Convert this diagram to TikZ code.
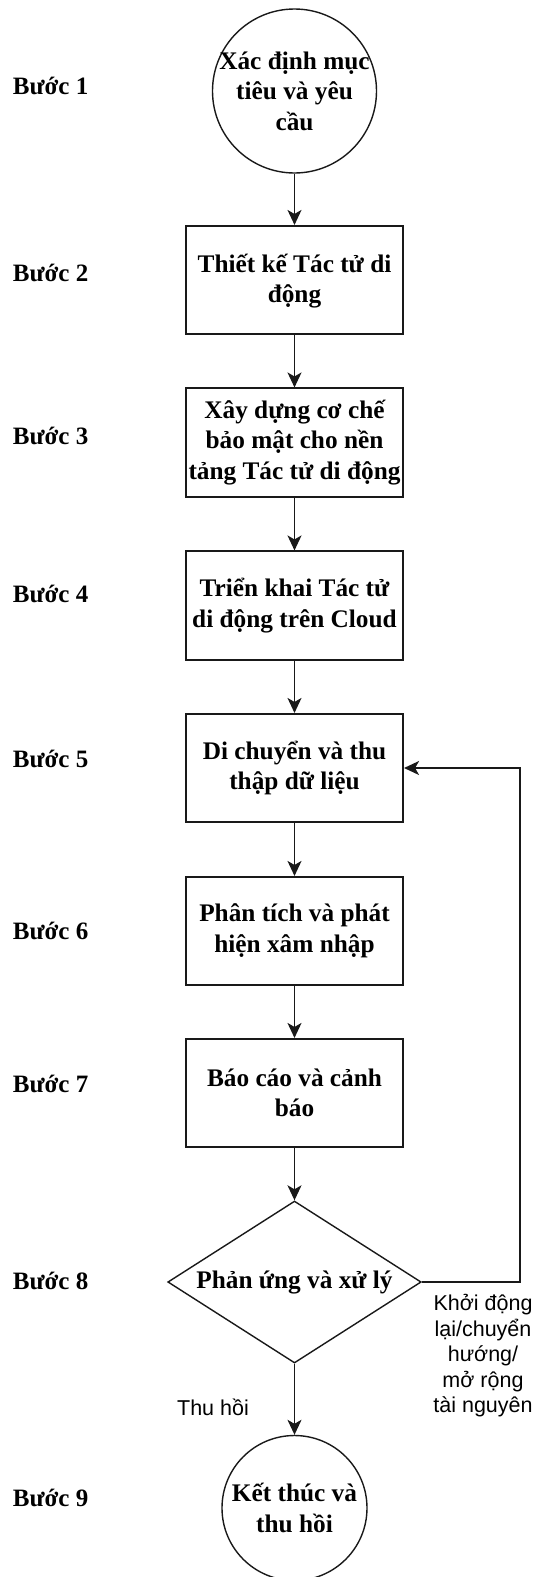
\documentclass[tikz,border=0pt]{standalone}
\usepackage{fontspec}
\setmainfont{Liberation Serif}
\setsansfont{Liberation Sans}
\usetikzlibrary{shapes.geometric,arrows.meta}

\begin{document}
\begin{tikzpicture}[x=1pt,y=-1pt,
  stepbox/.style={draw=black!90, line width=1.6pt, rectangle,
    minimum width=217.5pt, minimum height=108.5pt, inner sep=0pt},
  stepcircle/.style={draw=black!90, line width=1.4pt, circle, inner sep=0pt},
  stepdiamond/.style={draw=black!90, line width=1.4pt, diamond, inner sep=0pt,
    minimum width=253.4pt, minimum height=162pt},
  steptext/.style={align=center, inner sep=0pt,
    font=\fontsize{25.3}{30.5}\selectfont\bfseries},
  steplabel/.style={anchor=base west, inner sep=0pt,
    font=\fontsize{25}{30.5}\selectfont\bfseries},
  edgetext/.style={align=center, inner sep=0pt,
    font=\sffamily\fontsize{21.5}{25.5}\selectfont},
  flow/.style={draw=black!90, line width=1.6pt,
    -{Stealth[length=15pt,width=14pt,inset=4pt]}}
]
\useasboundingbox (0,0) rectangle (536,1577);

% shapes of the flow
\node[stepcircle, minimum size=164pt] (s1) at (294.5,91) {};
\node[stepbox] (s2) at (294.5,280) {};
\node[stepbox] (s3) at (294.5,442.5) {};
\node[stepbox] (s4) at (294.5,605.5) {};
\node[stepbox] (s5) at (294.5,768) {};
\node[stepbox] (s6) at (294.5,931) {};
\node[stepbox] (s7) at (294.5,1093) {};
\node[stepdiamond] (d8) at (294.5,1282) {};
\node[stepcircle, minimum size=145pt] (s9) at (294.5,1508) {};

% texts inside the shapes
\node[steptext] (t1) at (294.5,91) {Xác định mục\\tiêu và yêu\\cầu};
\node[steptext] (t2) at (294.5,281) {Thiết kế Tác tử di\\động};
\node[steptext] (t3) at (294.5,442.5) {Xây dựng cơ chế\\bảo mật cho nền\\tảng Tác tử di động};
\node[steptext] (t4) at (294.5,605.5) {Triển khai Tác tử\\di động trên Cloud};
\node[steptext] (t5) at (294.5,768) {Di chuyển và thu\\thập dữ liệu};
\node[steptext] (t6) at (294.5,931) {Phân tích và phát\\hiện xâm nhập};
\node[steptext] (t7) at (294.5,1093) {Báo cáo và cảnh\\báo};
\node[steptext] (t8) at (294.5,1282) {Phản ứng và xử lý};
\node[steptext] (t9) at (294.5,1508) {Kết thúc và\\thu hồi};

% step numbers on the left
\node[steplabel] (b1) at (12.7,94.5) {Bước 1};
\node[steplabel] (b2) at (12.7,281.7) {Bước 2};
\node[steplabel] (b3) at (12.7,444.5) {Bước 3};
\node[steplabel] (b4) at (12.7,602.5) {Bước 4};
\node[steplabel] (b5) at (12.7,767.3) {Bước 5};
\node[steplabel] (b6) at (12.7,939.3) {Bước 6};
\node[steplabel] (b7) at (12.7,1092.3) {Bước 7};
\node[steplabel] (b8) at (12.7,1289) {Bước 8};
\node[steplabel] (b9) at (12.7,1506) {Bước 9};

% connectors
\draw[flow] (s1) -- (s2);
\draw[flow] (s2) -- (s3);
\draw[flow] (s3) -- (s4);
\draw[flow] (s4) -- (s5);
\draw[flow] (s5) -- (s6);
\draw[flow] (s6) -- (s7);
\draw[flow] (s7) -- (d8);
\draw[flow] (d8) -- (s9);
\coordinate (turn) at (520,1000);
\draw[flow] (d8.east) -| (turn) |- (s5.east);

% connector labels
\node[edgetext, anchor=base] (l1) at (213,1415) {Thu hồi};
\node[edgetext] (l2) at (483,1356) {Khởi động\\lại/chuyển\\hướng/\\mở rộng\\tài nguyên};
\end{tikzpicture}
\end{document}
